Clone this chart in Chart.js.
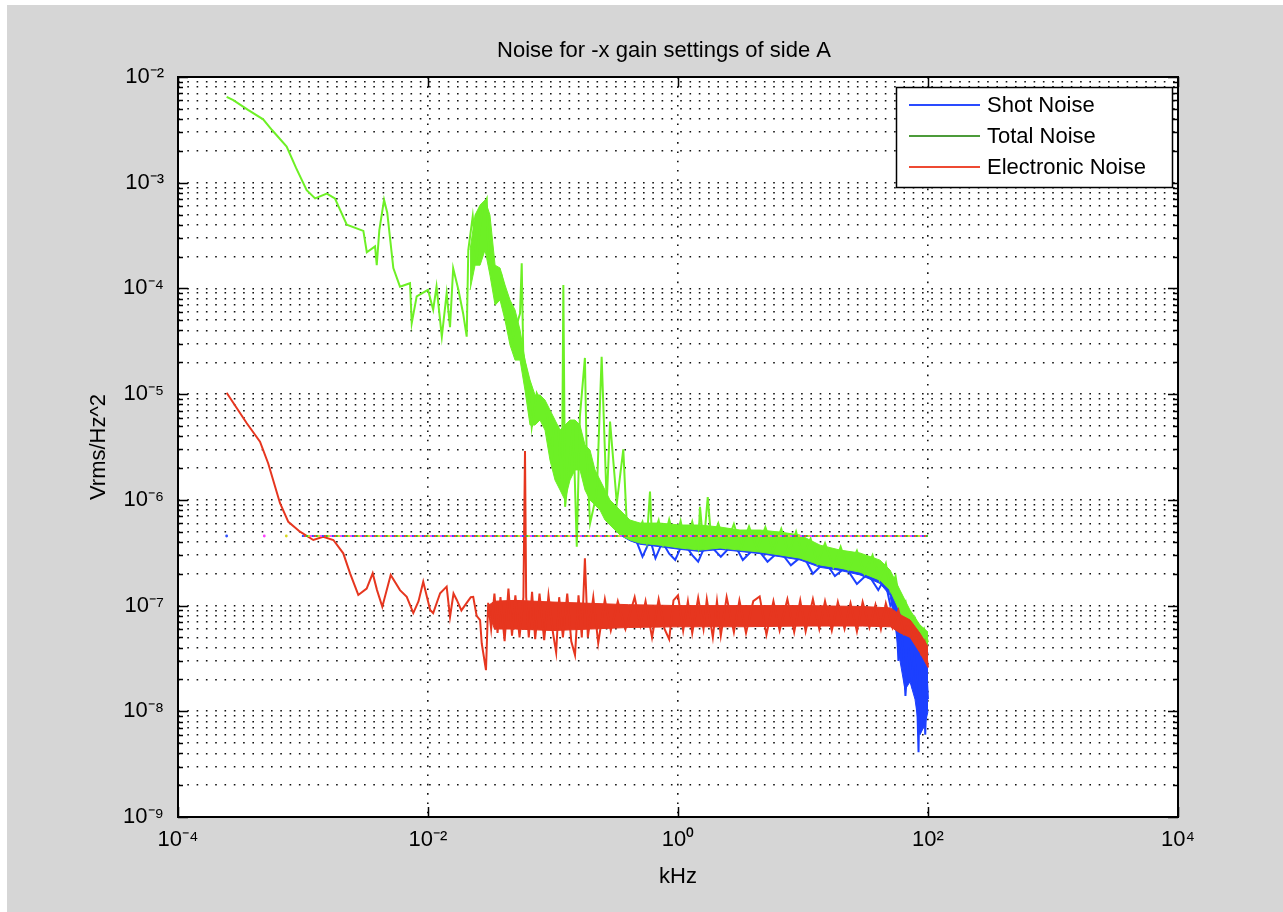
<!DOCTYPE html>
<html>
<head>
<meta charset="utf-8">
<title>Noise for -x gain settings of side A</title>
<script src="https://cdn.jsdelivr.net/npm/chart.js@4.4.1/dist/chart.umd.min.js"></script>
<style>
  html, body { margin: 0; padding: 0; background: #fff; }
  #wrap { width: 1283px; height: 912px; position: relative; }
</style>
</head>
<body>
<div id="wrap"><canvas id="noise"></canvas></div>
<script>
// frequencies in kHz, noise in Vrms/Hz^2
var chartTitle = 'Noise for -x gain settings of side A';
var xTitle = 'kHz';
var yTitle = 'Vrms/Hz^2';
var seriesNames = ['Shot Noise', 'Total Noise', 'Electronic Noise'];

var xTickValues = [1e-4, 1e-2, 1e0, 1e2, 1e4];
var xTickLabels = ['10⁻⁴', '10⁻²', '10⁰', '10²', '10⁴'];
var yDecades = [-9, -8, -7, -6, -5, -4, -3, -2];
var yTickLabels = ['10⁻⁹', '10⁻⁸', '10⁻⁷', '10⁻⁶', '10⁻⁵', '10⁻⁴', '10⁻³', '10⁻²'];

// Total Noise: trace
var totalFreq = [2.45e-4, 2.77e-4, 3.63e-4, 4.8e-4, 5.65e-4, 7.4e-4, 8.8e-4, 1.07e-3, 1.25e-3, 1.55e-3,
  1.8e-3, 2.24e-3, 3.04e-3, 3.24e-3, 3.77e-3, 3.89e-3, 4.08e-3, 4.45e-3, 4.72e-3, 5.28e-3,
  5.97e-3, 7.18e-3, 7.41e-3, 8.12e-3, 1.0e-2, 1.1e-2, 1.17e-2, 1.29e-2, 1.41e-2, 1.5e-2,
  1.59e-2, 1.75e-2, 1.91e-2, 2.04e-2,
  2.10e-2, 2.28e-2, 2.45e-2, 2.61e-2, 2.77e-2, 2.95e-2, 3.03e-2, 3.24e-2, 3.55e-2, 3.89e-2,
  4.27e-2, 4.81e-2, 5.45e-2, 5.62e-2, 5.78e-2, 6.34e-2, 6.76e-2, 7.41e-2, 8.91e-2, 9.77e-2,
  0.1005, 0.110, 0.118, 0.121, 0.125, 0.145, 0.155, 0.164, 0.180, 0.186,
  0.198, 0.224, 0.245, 0.269, 0.286, 0.324, 0.365, 0.389,
  0.468, 0.52, 0.562, 0.597, 0.62, 0.7, 0.76, 0.85, 0.95, 1.05,
  1.15, 1.3, 1.45, 1.5, 1.6, 1.73, 1.85, 2.1, 2.4, 2.8,
  3.2, 3.7, 4.3, 5.0, 5.8, 6.7, 7.7, 8.8, 10, 11.5,
  13, 15, 17.5, 20, 23, 27, 31, 36, 41, 46,
  50, 55, 60, 66, 72, 79, 86, 93, 100];
var totalNoise = [6.5e-3, 6.05e-3, 4.88e-3, 3.98e-3, 3.15e-3, 2.2e-3, 1.38e-3, 8.5e-4, 7.1e-4, 7.9e-4,
  7.1e-4, 4.0e-4, 3.5e-4, 2.2e-4, 2.5e-4, 1.66e-4, 3.57e-4, 6.9e-4, 5.2e-4, 1.56e-4,
  1.04e-4, 1.12e-4, 4.7e-5, 8.4e-5, 9.7e-5, 6.3e-5, 1.04e-4, 3.5e-5, 9.0e-5, 4.3e-5,
  1.55e-4, 9.7e-5, 5.8e-5, 3.5e-5,
  2.3e-4, 4.8e-4, 1.86e-4, 3.84e-4, 5.9e-4, 7.0e-4, 2.5e-4, 1.39e-4, 7.8e-5, 1.29e-4,
  7.8e-5, 3.5e-5, 5.8e-5, 1.73e-4, 2.4e-5, 1.36e-5, 4.9e-6, 1.02e-5, 6.6e-6, 2.2e-6,
  4.6e-6, 4.9e-6, 1.3e-6, 1.08e-4, 8.6e-7, 5.3e-6, 3.6e-7, 6.1e-6, 2.2e-5, 2.6e-6,
  6.0e-7, 1.15e-6, 2.26e-5, 9.3e-7, 5.5e-6, 9.3e-7, 3.0e-6, 6.0e-7,
  4.8e-7, 6.2e-7, 4.0e-7, 1.2e-6, 4.2e-7, 6.4e-7, 3.8e-7, 6.5e-7, 3.9e-7, 6.3e-7,
  3.7e-7, 6.2e-7, 3.6e-7, 8.6e-7, 3.6e-7, 1.06e-6, 4.0e-7, 6.0e-7, 3.6e-7, 5.9e-7,
  3.5e-7, 5.6e-7, 3.4e-7, 5.5e-7, 3.3e-7, 5.3e-7, 3.1e-7, 5.0e-7, 2.9e-7, 4.3e-7,
  2.5e-7, 3.9e-7, 2.3e-7, 3.6e-7, 2.2e-7, 3.3e-7, 2.0e-7, 3.0e-7, 1.75e-7, 2.5e-7,
  1.4e-7, 1.9e-7, 1.0e-7, 1.1e-7, 6.0e-8, 7.5e-8, 5.0e-8, 6.0e-8, 4.5e-8];
// Total Noise: spread of the dense part
var totalBandFreq = [0.0217, 0.0238, 0.0261, 0.0286, 0.0313, 0.0344, 0.0377, 0.0413, 0.0453, 0.0497,
  0.0545, 0.0597, 0.0655, 0.0718, 0.0787, 0.0863, 0.0946, 0.1038, 0.1138, 0.1247,
  0.1368, 0.150, 0.1644, 0.1803, 0.1977, 0.2168, 0.2377, 0.2606, 0.2858, 0.3133,
  0.3436, 0.413, 0.497, 0.718, 1.038, 1.50, 2.168, 3.133, 4.53, 6.55,
  9.46, 13.68, 19.77, 28.58, 41.3, 49.7, 59.7, 71.8, 86.3, 100];
var totalBandHigh = [2.31e-4, 4.95e-4, 6.15e-4, 6.85e-4, 4.95e-4, 1.66e-4, 1.56e-4, 1.08e-4, 7.77e-5, 6.25e-5,
  4.04e-5, 2.10e-5, 1.36e-5, 9.8e-6, 9.8e-6, 8.8e-6, 7.08e-6, 5.69e-6, 4.57e-6, 5.10e-6,
  5.69e-6, 5.69e-6, 5.10e-6, 3.30e-6, 2.96e-6, 1.92e-6, 1.54e-6, 1.24e-6, 9.95e-7, 8.93e-7,
  8.0e-7, 6.44e-7, 6.03e-7, 6.03e-7, 5.78e-7, 5.78e-7, 5.53e-7, 5.18e-7, 5.18e-7, 4.96e-7,
  4.65e-7, 3.73e-7, 3.35e-7, 3.14e-7, 2.69e-7, 2.17e-7, 1.40e-7, 9.06e-8, 6.55e-8, 5.61e-8];
var totalBandLow = [9.66e-5, 1.66e-4, 1.66e-4, 2.31e-4, 1.34e-4, 6.96e-5, 7.77e-5, 5.03e-5, 2.92e-5, 2.10e-5,
  2.10e-5, 1.09e-5, 5.10e-6, 5.10e-6, 5.69e-6, 4.57e-6, 2.38e-6, 1.54e-6, 1.24e-6, 9.95e-7,
  1.54e-6, 1.92e-6, 1.92e-6, 1.24e-6, 9.95e-7, 8.93e-7, 8.0e-7, 6.44e-7, 5.78e-7, 5.18e-7,
  4.65e-7, 4.17e-7, 3.90e-7, 3.73e-7, 3.50e-7, 3.35e-7, 3.50e-7, 3.35e-7, 3.21e-7, 3.01e-7,
  2.81e-7, 2.42e-7, 2.26e-7, 2.07e-7, 1.74e-7, 1.40e-7, 8.68e-8, 5.87e-8, 4.52e-8, 3.96e-8];

// Shot Noise
var shotFreq = [0.45, 0.52, 0.6, 0.66, 0.75, 0.85, 0.95, 1.1, 1.3, 1.45,
  1.7, 2.2, 2.8, 3.3, 4.2, 5.2, 6.5, 8.0, 10, 12,
  15, 18, 22, 27, 33, 40, 45, 50, 55, 58,
  62, 66, 70, 74, 78, 82, 84, 86, 89, 92, 95, 98, 100];
var shotNoise = [4.5e-7, 2.9e-7, 4.2e-7, 2.8e-7, 4.0e-7, 3.1e-7, 2.7e-7, 4.0e-7, 3.0e-7, 2.6e-7,
  4.0e-7, 2.9e-7, 3.9e-7, 2.7e-7, 3.6e-7, 2.6e-7, 3.3e-7, 2.4e-7, 3.0e-7, 2.0e-7,
  2.6e-7, 1.9e-7, 2.3e-7, 1.6e-7, 2.0e-7, 1.4e-7, 1.8e-7, 1.0e-7, 1.2e-7, 3.0e-8,
  6.0e-8, 1.4e-8, 4.0e-8, 2.0e-8, 3.5e-8, 1.2e-8, 4.1e-9, 2.5e-8, 7.0e-9, 3.0e-8, 6.0e-9, 2.0e-8, 1.3e-8];
var shotBandFreq = [0.3436, 0.413, 0.497, 0.718, 1.038, 1.50, 2.168, 3.133, 4.53, 6.55,
  9.46, 13.68, 19.77, 28.58, 41.3, 49.7, 54.5, 59.7, 65.5, 71.8, 78.7, 86.3, 94.6, 100];
var shotBandHigh = [7.3e-7, 6.0e-7, 5.8e-7, 5.8e-7, 5.5e-7, 5.5e-7, 5.3e-7, 5.0e-7, 4.9e-7, 4.7e-7,
  4.4e-7, 3.5e-7, 3.2e-7, 2.9e-7, 2.5e-7, 1.9e-7, 1.5e-7, 1.0e-7, 7.0e-8, 6.0e-8, 5.0e-8, 4.5e-8, 4.0e-8, 3.6e-8];
var shotBandLow = [4.65e-7, 4.1e-7, 3.8e-7, 3.6e-7, 3.4e-7, 3.25e-7, 3.4e-7, 3.25e-7, 3.1e-7, 2.9e-7,
  2.7e-7, 2.3e-7, 2.15e-7, 1.95e-7, 1.62e-7, 1.25e-7, 6.5e-8, 3.0e-8, 1.6e-8, 1.9e-8, 1.3e-8, 6.0e-9, 7.5e-9, 1.0e-8];

// Electronic Noise
var elecFreq = [2.45e-4, 3.55e-4, 4.53e-4, 5.27e-4, 6.55e-4, 7.63e-4, 9.46e-4, 1.21e-3, 1.45e-3, 1.75e-3,
  2.10e-3, 2.38e-3, 2.77e-3, 3.23e-3, 3.61e-3, 3.91e-3, 4.31e-3, 5.03e-3, 5.97e-3, 6.76e-3,
  7.63e-3, 8.4e-3, 9.16e-3, 1.04e-2, 1.10e-2, 1.25e-2, 1.41e-2, 1.50e-2, 1.60e-2, 1.70e-2,
  1.85e-2, 2.04e-2, 2.2e-2, 2.30e-2, 2.45e-2, 2.61e-2, 2.69e-2, 2.91e-2, 3.03e-2,
  0.032, 0.034, 0.036, 0.038, 0.041, 0.044, 0.047, 0.050, 0.054, 0.058,
  0.0597, 0.061, 0.064, 0.068, 0.072, 0.078, 0.085, 0.092, 0.100, 0.106,
  0.112, 0.12, 0.13, 0.14, 0.15, 0.16, 0.17, 0.180, 0.19, 0.21,
  0.23, 0.26, 0.29, 0.33, 0.38,
  0.45, 0.5, 0.55, 0.62, 0.7, 0.78, 0.85, 0.92, 1.0, 1.1,
  1.2, 1.3, 1.45, 1.6, 1.7, 1.9, 2.05, 2.2, 2.45, 2.8,
  3.1, 3.5, 4.0, 4.5, 5.1, 5.8, 6.5, 7.5, 8.5, 9.5,
  10.5, 12, 13.5, 15, 17, 19, 21.5, 24, 27, 30,
  34, 38, 42, 46, 52, 58, 64, 70, 76, 82, 88, 94, 100];
var elecNoise = [1.03e-5, 5.3e-6, 3.55e-6, 2.21e-6, 9.3e-7, 6.2e-7, 5.0e-7, 4.17e-7, 4.48e-7, 4.17e-7,
  3.12e-7, 2.02e-7, 1.26e-7, 1.45e-7, 2.02e-7, 1.40e-7, 9.75e-8, 1.95e-7, 1.40e-7, 1.21e-7,
  8.5e-8, 1.1e-7, 1.68e-7, 9.1e-8, 8.5e-8, 1.31e-7, 1.51e-7, 7.8e-8, 1.3e-7, 1.13e-7,
  9.0e-8, 1.06e-7, 1.2e-7, 1.21e-7, 8.0e-8, 7.3e-8, 4.4e-8, 2.45e-8, 1.06e-7,
  6.0e-8, 1.3e-7, 5.5e-8, 1.2e-7, 4.6e-8, 1.45e-7, 5.2e-8, 1.25e-7, 5.0e-8, 1.2e-7,
  2.9e-6, 1.2e-7, 5.0e-8, 1.35e-7, 4.8e-8, 1.3e-7, 4.7e-8, 1.25e-7, 5.5e-8, 3.6e-8,
  1.2e-7, 5.0e-8, 1.3e-7, 4.6e-8, 3.4e-8, 1.25e-7, 5.0e-8, 2.8e-7, 5.0e-8, 1.2e-7,
  4.4e-8, 1.15e-7, 5.8e-8, 1.1e-7, 6.0e-8,
  1.2e-7, 6.5e-8, 1.1e-7, 5.0e-8, 1.15e-7, 6.0e-8, 4.8e-8, 1.12e-7, 1.25e-7, 5.8e-8,
  1.1e-7, 5.5e-8, 1.18e-7, 6.0e-8, 1.15e-7, 5.0e-8, 1.1e-7, 5.2e-8, 1.2e-7, 5.6e-8,
  1.12e-7, 5.5e-8, 1.1e-7, 1.22e-7, 5.3e-8, 1.1e-7, 5.8e-8, 1.15e-7, 5.6e-8, 1.12e-7,
  5.7e-8, 1.15e-7, 6.0e-8, 1.1e-7, 5.8e-8, 1.08e-7, 6.0e-8, 1.05e-7, 5.7e-8, 1.08e-7,
  6.2e-8, 1.02e-7, 6.0e-8, 1.05e-7, 6.2e-8, 9.0e-8, 5.5e-8, 7.0e-8, 4.8e-8, 5.6e-8, 3.6e-8, 4.5e-8, 2.6e-8];
var elecBandFreq = [0.0303, 0.034, 0.05, 0.1, 0.2, 0.4, 1, 3, 10, 30, 50, 60, 72, 86, 100];
var elecBandHigh = [1.0e-7, 1.1e-7, 1.12e-7, 1.08e-7, 1.05e-7, 1.02e-7, 1.0e-7, 1.0e-7, 1.0e-7, 9.8e-8, 9.5e-8, 8.2e-8, 7.3e-8, 5.5e-8, 4.1e-8];
var elecBandLow = [9.0e-8, 6.0e-8, 6.0e-8, 5.8e-8, 6.0e-8, 6.2e-8, 6.3e-8, 6.3e-8, 6.4e-8, 6.4e-8, 6.3e-8, 5.5e-8, 5.0e-8, 3.6e-8, 2.6e-8];

// the flat dotted reference level across the plot
var floorFreq = [9.8e-4, 100];
var floorLevel = [4.55e-7, 4.55e-7];
var floorDotFreq = [2.45e-4, 4.9e-4, 7.35e-4];
var floorDotLevel = [4.55e-7, 4.55e-7, 4.55e-7];

var FONT = 'Liberation Sans, Arial, sans-serif';
var blue = '#1c40ff', green = '#6df025', red = '#e6361f';
var legendColors = ['#2a4bff', '#4c9b3a', '#ee4a33'];
var floorColors = ['#3050ff', '#ff40ff', '#d8d820', '#30c030', '#ff3030'];

function pts(xs, ys) {
    return xs.map(function (x, i) { return { x: x, y: ys[i] }; });
}

function band(xs, hi, lo, color, order) {
    return [
        { data: pts(xs, hi), borderColor: color, borderWidth: 1, fill: false, order: order },
        { data: pts(xs, lo), borderColor: color, borderWidth: 1, backgroundColor: color, fill: '-1', order: order }
    ];
}

function trace(label, xs, ys, color, order) {
    return { label: label, data: pts(xs, ys), borderColor: color, borderWidth: 2, fill: false, order: order };
}

var datasets = []
    .concat(band(shotBandFreq, shotBandHigh, shotBandLow, blue, 7))
    .concat([trace(seriesNames[0], shotFreq, shotNoise, blue, 6)])
    .concat(band(totalBandFreq, totalBandHigh, totalBandLow, green, 5))
    .concat([trace(seriesNames[1], totalFreq, totalNoise, green, 4)])
    .concat(band(elecBandFreq, elecBandHigh, elecBandLow, red, 3))
    .concat([trace(seriesNames[2], elecFreq, elecNoise, red, 2)]);

floorColors.forEach(function (c, k) {
    datasets.push({ data: pts(floorFreq, floorLevel), borderColor: c, borderWidth: 2,
        borderDash: [2, 8], borderDashOffset: k * 2, fill: false, order: 1 });
});
datasets.push({ data: pts(floorDotFreq, floorDotLevel), showLine: false, pointRadius: 1.4,
    pointBorderWidth: 0, pointBackgroundColor: floorColors, order: 1 });

var yTickValues = [];
yDecades.forEach(function (d) {
    if (d === yDecades[yDecades.length - 1]) { yTickValues.push(Number('1e' + d)); return; }
    for (var m = 1; m <= 9; m++) yTickValues.push(Number(m + 'e' + d));
});
var yMajor = yDecades.map(function (d) { return Number('1e' + d); });

var frame = {
    id: 'frame',
    beforeDraw: function (chart) {
        var ctx = chart.ctx, a = chart.chartArea;
        ctx.save();
        ctx.fillStyle = '#fff';
        ctx.fillRect(0, 0, chart.width, chart.height);
        ctx.fillStyle = '#d6d6d6';
        ctx.fillRect(7, 5, chart.width - 7, chart.height - 5);
        ctx.fillStyle = '#fff';
        ctx.fillRect(a.left, a.top, a.right - a.left, a.bottom - a.top);
        ctx.restore();
    },
    afterDraw: function (chart) {
        var ctx = chart.ctx, a = chart.chartArea;
        var xs = chart.scales.x, ys = chart.scales.y;
        ctx.save();
        // inward tick marks
        ctx.strokeStyle = '#000';
        ctx.lineWidth = 1.5;
        ctx.beginPath();
        ys.ticks.forEach(function (t) {
            var y = Math.round(ys.getPixelForValue(t.value)) + 0.5;
            var len = yMajor.indexOf(t.value) >= 0 ? 10 : 5;
            ctx.moveTo(a.left, y); ctx.lineTo(a.left + len, y);
            ctx.moveTo(a.right, y); ctx.lineTo(a.right - len, y);
        });
        xs.ticks.forEach(function (t) {
            var x = Math.round(xs.getPixelForValue(t.value)) + 0.5;
            ctx.moveTo(x, a.bottom); ctx.lineTo(x, a.bottom - 10);
            ctx.moveTo(x, a.top); ctx.lineTo(x, a.top + 10);
        });
        ctx.stroke();
        // axes box
        ctx.lineWidth = 2;
        ctx.strokeRect(a.left, a.top, a.right - a.left, a.bottom - a.top);

        // title
        ctx.fillStyle = '#000';
        ctx.font = '22px ' + FONT;
        ctx.textAlign = 'center';
        ctx.textBaseline = 'middle';
        ctx.fillText(chartTitle, (a.left + a.right) / 2 - 14, a.top - 26);

        // legend
        var lx = a.right - 282, ly = a.top + 10, lw = 276, lh = 100;
        ctx.fillStyle = '#fff';
        ctx.fillRect(lx, ly, lw, lh);
        ctx.lineWidth = 1.5;
        ctx.strokeStyle = '#000';
        ctx.strokeRect(lx + 0.5, ly + 0.5, lw, lh);
        ctx.textAlign = 'left';
        seriesNames.forEach(function (name, i) {
            var y = ly + 18 + i * 31;
            ctx.strokeStyle = legendColors[i];
            ctx.lineWidth = 2;
            ctx.beginPath();
            ctx.moveTo(lx + 13, y); ctx.lineTo(lx + 84, y);
            ctx.stroke();
            ctx.fillStyle = '#000';
            ctx.fillText(name, lx + 91, y + 1);
        });
        ctx.restore();
    }
};

new Chart(document.getElementById('noise').getContext('2d'), {
    type: 'line',
    data: { datasets: datasets },
    plugins: [frame],
    options: {
        responsive: true,
        maintainAspectRatio: false,
        animation: false,
        events: [],
        layout: { padding: { top: 77, right: 105, bottom: 0, left: 0 } },
        elements: { point: { radius: 0 }, line: { tension: 0 } },
        plugins: { legend: { display: false }, tooltip: { enabled: false } },
        scales: {
            x: {
                type: 'logarithmic', min: 1e-4, max: 1e4,
                afterBuildTicks: function (s) { s.ticks = xTickValues.map(function (v) { return { value: v }; }); },
                afterFit: function (s) { s.height = 95; s.paddingLeft = 0; s.paddingRight = 0; },
                ticks: {
                    autoSkip: false, maxRotation: 0, padding: 10, color: '#000',
                    font: { family: FONT, size: 22 },
                    callback: function (v) { var i = xTickValues.indexOf(v); return i >= 0 ? xTickLabels[i] : ''; }
                },
                grid: { color: '#111', lineWidth: 1.6, drawTicks: false },
                border: { display: false, dash: [1.6, 7.7] },
                title: { display: true, text: xTitle, color: '#000', font: { family: FONT, size: 22 }, padding: { top: 0, bottom: 22 } }
            },
            y: {
                type: 'logarithmic', min: 1e-9, max: 1e-2,
                afterBuildTicks: function (s) { s.ticks = yTickValues.map(function (v) { return { value: v }; }); },
                afterFit: function (s) { s.width = 178; s.paddingTop = 0; s.paddingBottom = 0; },
                ticks: {
                    autoSkip: false, padding: 14, color: '#000',
                    font: { family: FONT, size: 22 },
                    callback: function (v) { var i = yMajor.indexOf(v); return i >= 0 ? yTickLabels[i] : ''; }
                },
                grid: { color: '#111', lineWidth: 1.6, drawTicks: false },
                border: { display: false, dash: [1.6, 7.7] },
                title: { display: true, text: yTitle, color: '#000', font: { family: FONT, size: 22 }, padding: { top: 86, bottom: 0 } }
            }
        }
    }
});
</script>
</body>
</html>
